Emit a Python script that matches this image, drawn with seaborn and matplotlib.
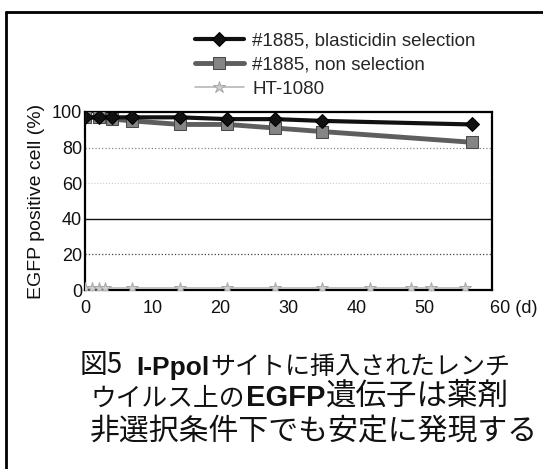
import matplotlib
matplotlib.use("Agg")
import matplotlib.pyplot as plt
import matplotlib.transforms as mtrans
from matplotlib.lines import Line2D
import seaborn as sns
import pandas as pd

# ---- data ----
days_main = [0, 2, 4, 7, 14, 21, 28, 35, 57]
blasticidin = [97, 97, 97, 97, 97, 96, 96, 95, 93]
non_selection = [97, 97, 96, 95, 93, 93, 91, 89, 83]
days_ht = [0, 1, 2, 3, 7, 14, 21, 28, 35, 42, 48, 51, 56]
ht1080 = [1, 1, 1, 1, 1, 1, 1, 1, 1, 1, 1, 1, 1]
series_names = ["#1885, blasticidin selection", "#1885, non selection", "HT-1080"]
x_ticks = [0, 10, 20, 30, 40, 50, 60]
y_ticks = [0, 20, 40, 60, 80, 100]
caption_lines = [
    ["図5", "I-Ppol", "サイトに挿入されたレンチ"],
    ["ウイルス上の", "EGFP", "遺伝子は薬剤"],
    ["非選択条件下でも安定に発現する"],
]
# style per caption segment: (bold, fontsize)
caption_style = [
    [(False, 20), (True, 19), (False, 18)],
    [(False, 18.5), (True, 21), (False, 22)],
    [(False, 21.5)],
]

sns.set_style("white")
plt.rcParams["font.family"] = ["Liberation Sans", "DejaVu Sans"]

W, H = 543, 469
fig = plt.figure(figsize=(W / 100, H / 100), dpi=100)
L, R, T, B = 85, 492, 112, 290
ax = fig.add_axes([L / W, 1 - B / H, (R - L) / W, (B - T) / H])

df_b = pd.DataFrame({"day": days_main, "val": blasticidin})
df_n = pd.DataFrame({"day": days_main, "val": non_selection})
df_h = pd.DataFrame({"day": days_ht, "val": ht1080})

sns.lineplot(data=df_h, x="day", y="val", ax=ax, color="#b8b8b8", lw=1.2,
             marker="*", markersize=9, markeredgecolor="#a8a8a8",
             markerfacecolor="#cfcfcf", label=series_names[2], zorder=3)
sns.lineplot(data=df_n, x="day", y="val", ax=ax, color="#5e5e5e", lw=3.5,
             marker="s", markersize=9, markeredgecolor="#4a4a4a",
             markerfacecolor="#858585", label=series_names[1], zorder=4)
sns.lineplot(data=df_b, x="day", y="val", ax=ax, color="#111111", lw=3,
             marker="D", markersize=7, markeredgecolor="#000000",
             markerfacecolor="#111111", label=series_names[0], zorder=5)

# gridlines
for yv, ls, c, lw in [(20, ":", "#444444", 0.9), (40, "-", "#111111", 1.0),
                      (60, ":", "#cccccc", 0.8), (80, ":", "#888888", 0.9)]:
    ax.axhline(yv, ls=ls, color=c, lw=lw, zorder=1)

ax.set_xlim(0, 60)
ax.set_ylim(0, 100)
ax.set_xticks(x_ticks)
ax.set_yticks(y_ticks)
xl = [str(v) for v in x_ticks]
xl[-1] = "60 (d)"
ax.set_xticklabels(xl)
ax.set_yticklabels([str(v) for v in y_ticks])
ax.tick_params(axis="both", length=0, labelsize=13, colors="#111111")
ax.tick_params(axis="x", pad=7)
ax.tick_params(axis="y", pad=2)
lab = ax.get_xticklabels()[-1]
lab.set_horizontalalignment("left")
lab.set_transform(lab.get_transform() + mtrans.ScaledTranslation(-2 / 100, 0, fig.dpi_scale_trans))
ax.set_xlabel("")
ax.set_ylabel("EGFP positive cell (%)", fontsize=14, labelpad=5, color="#111111")
for s in ax.spines.values():
    s.set_color("#000000")
    s.set_linewidth(1.6)
    s.set_visible(True)

# legend
handles, labels = ax.get_legend_handles_labels()
order = [labels.index(n) for n in series_names]
ax.legend([handles[i] for i in order], [labels[i] for i in order],
          loc="upper left", bbox_to_anchor=(195 / W, 1 - 32 / H),
          bbox_transform=fig.transFigure, frameon=False, fontsize=13.5,
          handlelength=2.6, handletextpad=0.45, labelspacing=0.38,
          borderpad=0, borderaxespad=0)

# outer border (top & left)
fig.add_artist(Line2D([6 / W, 1.0], [1 - 12 / H, 1 - 12 / H], transform=fig.transFigure,
                      color="#000000", lw=2))
fig.add_artist(Line2D([6 / W, 6 / W], [0, 1 - 12 / H], transform=fig.transFigure,
                      color="#000000", lw=2))

# caption
jp = ["Noto Sans CJK JP", "DejaVu Sans"]
latin_bold = ["Liberation Sans", "DejaVu Sans"]
line_starts = [(80, 373), (90, 406), (90, 440)]
gaps = [[0, 13, 1], [0, 1, 1], [0]]
for (x0, yb), segs, styles, gp in zip(line_starts, caption_lines, caption_style, gaps):
    prev = None
    for txt, (bold, fs), g in zip(segs, styles, gp):
        kw = dict(fontsize=fs, color="#111111", ha="left")
        if bold:
            kw.update(family=latin_bold, fontweight="bold")
        else:
            kw.update(family=jp)
        if prev is None:
            prev = fig.text(x0 / W, 1 - yb / H, txt, va="baseline", **kw)
        else:
            prev = ax.annotate(txt, xy=(1, 0), xycoords=prev, xytext=(g * 0.72, 0),
                               textcoords="offset points", annotation_clip=False,
                               va="bottom", **kw)

fig.savefig("out.png", dpi=100)
